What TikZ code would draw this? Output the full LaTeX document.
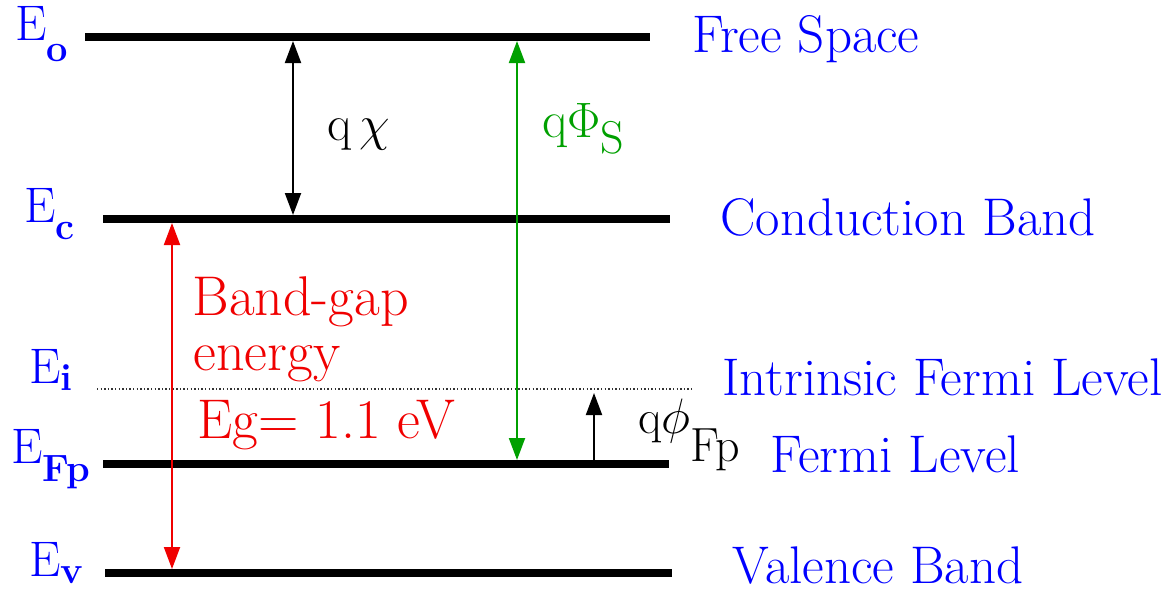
\documentclass[tikz,border=0pt]{standalone}
\usetikzlibrary{arrows.meta}
\definecolor{lvlblue}{RGB}{0,0,255}
\definecolor{gapred}{RGB}{240,0,0}
\definecolor{wfgreen}{RGB}{0,160,0}
\newcommand{\fsz}[1]{\fontsize{#1}{#1}\selectfont}
\newcommand{\lsub}[2][-0.42em]{\raisebox{#1}{\fsz{19}\bfseries #2}}
\tikzset{
  >={Triangle[length=11pt,width=8pt]},
  level/.style={line width=4pt,black},
  midlevel/.style={line width=0.8pt,black!80,dash pattern=on 0.7pt off 1.1pt},
  gaparrow/.style={<->,line width=1pt,shorten >=2pt,shorten <=2pt},
  elbl/.style={font=\fsz{25},text=lvlblue,anchor=base west,inner sep=0pt},
  rlbl/.style={font=\fsz{26.5},text=lvlblue,anchor=base west,inner sep=0pt},
  qlbl/.style={font=\fsz{25},anchor=base west,inner sep=0pt},
  redlbl/.style={font=\fsz{28},text=gapred,anchor=base west,inner sep=0pt},
}

\begin{document}
\begin{tikzpicture}[x=0.5pt,y=-0.5pt]
  \useasboundingbox (0,0) rectangle (1171,591);
  \coordinate (Eo-l) at (85,37);   \coordinate (Eo-r) at (650,37);
  \coordinate (Ec-l) at (103,219); \coordinate (Ec-r) at (670,219);
  \coordinate (Ei-l) at (97,389);  \coordinate (Ei-r) at (693,389);
  \coordinate (Ef-l) at (103,464); \coordinate (Ef-r) at (669,464);
  \coordinate (Ev-l) at (105,573); \coordinate (Ev-r) at (672,573);
  \draw[level] (Eo-l) -- (Eo-r);
  \draw[level] (Ec-l) -- (Ec-r);
  \draw[midlevel] (Ei-l) -- (Ei-r);
  \draw[level] (Ef-l) -- (Ef-r);
  \draw[level] (Ev-l) -- (Ev-r);

  \node[elbl] (Eo) at (15,40) {E\lsub{o}};
  \node[elbl] (Ec) at (24,222) {E\lsub[-0.35em]{c}};
  \node[elbl] (Ei) at (29,383) {E\lsub[-0.15em]{i}};
  \node[elbl] (Ef) at (11,463) {E\lsub[-0.36em]{Fp}};
  \node[elbl] (Ev) at (29,576) {E\lsub[-0.15em]{v}};

  \node[rlbl] (free) at (692,52) {Free Space};
  \node[rlbl] (cond) at (720,235) {Conduction Band};
  \node[rlbl] (intr) at (722,395) {Intrinsic Fermi Level};
  \node[rlbl] (ferm) at (770,472) {Fermi Level};
  \node[rlbl] (vale) at (732,583) {Valence Band};

  \coordinate (chi-t) at (293,37);  \coordinate (chi-b) at (293,219);
  \coordinate (phs-t) at (517,37);  \coordinate (phs-b) at (517,464);
  \coordinate (gap-t) at (172,219); \coordinate (gap-b) at (172,573);
  \coordinate (phf-b) at (594,464); \coordinate (phf-t) at (594,389);
  \draw[gaparrow] (chi-t) -- (chi-b);
  \draw[gaparrow,wfgreen] (phs-t) -- (phs-b);
  \draw[gaparrow,gapred] (gap-t) -- (gap-b);
  \draw[gaparrow,-> ] (phf-b) -- (phf-t);

  \node[qlbl] (qchi) at (327,140) {q\,$\chi$};
  \node[qlbl,font=\fsz{26},text=wfgreen] (qphis) at (542,137) {q$\Phi$\raisebox{-8pt}{\fsz{23}S}};
  \node[qlbl,font=\fsz{24}] (qphif) at (638,433) {q$\phi$\raisebox{-14pt}{Fp}};
  \node[redlbl] (gapl1) at (192,315) {Band-gap};
  \node[redlbl] (gapl2) at (193,370) {energy};
  \node[redlbl] (gapl3) at (197,438) {Eg= 1.1 eV};
\end{tikzpicture}
\end{document}
